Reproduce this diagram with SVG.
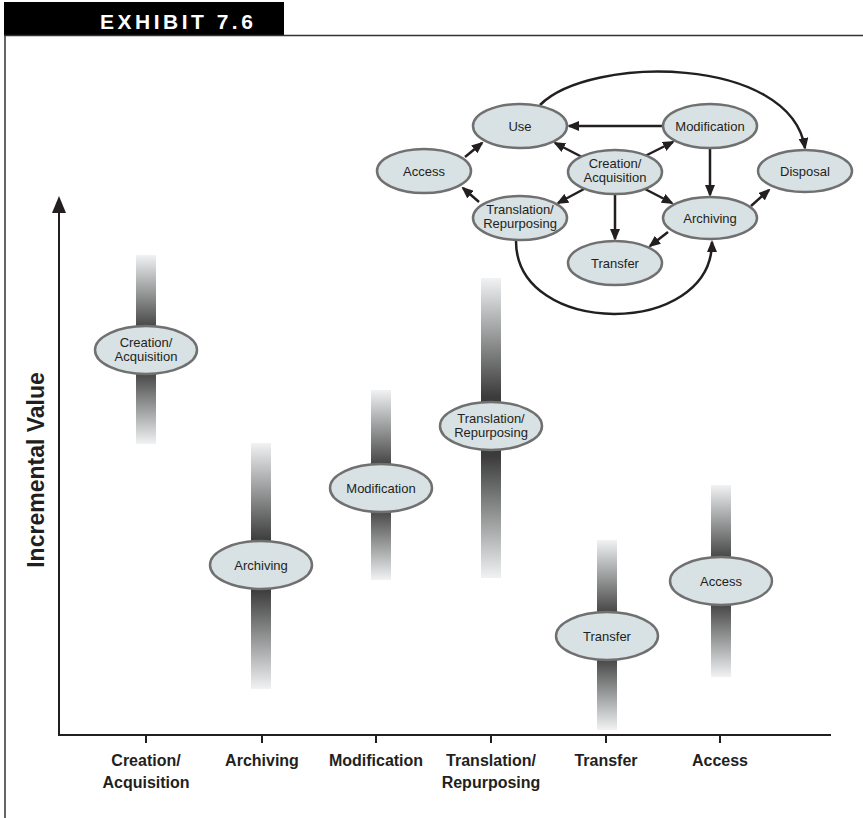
<svg xmlns="http://www.w3.org/2000/svg" width="863" height="818" viewBox="0 0 863 818">
<style>
.nd{fill:#d8e1e3;stroke:#707070;stroke-width:2.5}
.nt{font-family:"Liberation Sans",Arial,sans-serif;font-size:13px;fill:#231f20;text-anchor:middle}
.ax{font-family:"Liberation Sans",Arial,sans-serif;font-size:16px;font-weight:bold;fill:#231f20;text-anchor:middle}
.ed{fill:none;stroke:#231f20;stroke-width:2.5;marker-end:url(#ah)}
.axis{fill:none;stroke:#231f20;stroke-width:2}
</style>
<defs>
<marker id="ah" markerWidth="12" markerHeight="10" refX="10" refY="5" orient="auto" markerUnits="userSpaceOnUse"><path d="M0,0 L12,5 L0,10 z" fill="#231f20"/></marker>
<linearGradient id="gDown" x1="0" y1="0" x2="0" y2="1"><stop offset="0" stop-color="#f0f2f3"/><stop offset="0.8" stop-color="#3c3c3c"/><stop offset="1" stop-color="#333"/></linearGradient>
<linearGradient id="gUp" x1="0" y1="0" x2="0" y2="1"><stop offset="0" stop-color="#333"/><stop offset="0.2" stop-color="#3c3c3c"/><stop offset="1" stop-color="#f0f2f3"/></linearGradient>
</defs>
<rect width="863" height="818" fill="#ffffff"/>
<g id="frame">
<rect x="4" y="2" width="280" height="33" fill="#000"/>
<text x="100" y="29" font-family="Liberation Sans,Arial,sans-serif" font-size="21" font-weight="bold" fill="#fff" letter-spacing="3.5">EXHIBIT 7.6</text>
<line x1="4" y1="35.5" x2="863" y2="35.5" stroke="#333" stroke-width="1.5"/>
<line x1="5" y1="35" x2="5" y2="818" stroke="#333" stroke-width="1.5"/>
</g>
<g id="axes">
<path class="axis" d="M59,210 V735 H831"/>
<path d="M52,213 L59,196 L66,213 z" fill="#231f20"/>
<path class="axis" d="M146,735 v8 M262,735 v8 M376,735 v8 M491,735 v8 M606,735 v8 M720,735 v8"/>
<text x="44" y="470" transform="rotate(-90 44 470)" font-family="Liberation Sans,Arial,sans-serif" font-size="23" font-weight="bold" fill="#231f20" text-anchor="middle">Incremental Value</text>
<text class="ax" x="146" y="766">Creation/</text>
<text class="ax" x="146" y="788">Acquisition</text>
<text class="ax" x="262" y="766">Archiving</text>
<text class="ax" x="376" y="766">Modification</text>
<text class="ax" x="491" y="766">Translation/</text>
<text class="ax" x="491" y="788">Repurposing</text>
<text class="ax" x="606" y="766">Transfer</text>
<text class="ax" x="720" y="766">Access</text>
</g>
<g id="bar-creation">
<rect x="136" y="255" width="20" height="95" fill="url(#gDown)"/>
<rect x="136" y="350" width="20" height="94" fill="url(#gUp)"/>
<ellipse class="nd" cx="146" cy="350" rx="51" ry="24"/>
<text class="nt" x="146" y="347">Creation/</text>
<text class="nt" x="146" y="361">Acquisition</text>
</g>
<g id="bar-archiving">
<rect x="251" y="443" width="20" height="122" fill="url(#gDown)"/>
<rect x="251" y="565" width="20" height="124" fill="url(#gUp)"/>
<ellipse class="nd" cx="261" cy="565" rx="51" ry="24"/>
<text class="nt" x="261" y="570">Archiving</text>
</g>
<g id="bar-modification">
<rect x="371" y="390" width="20" height="98" fill="url(#gDown)"/>
<rect x="371" y="488" width="20" height="92" fill="url(#gUp)"/>
<ellipse class="nd" cx="381" cy="488" rx="51" ry="24"/>
<text class="nt" x="381" y="493">Modification</text>
</g>
<g id="bar-translation">
<rect x="481" y="278" width="20" height="148" fill="url(#gDown)"/>
<rect x="481" y="426" width="20" height="152" fill="url(#gUp)"/>
<ellipse class="nd" cx="491" cy="426" rx="51" ry="24"/>
<text class="nt" x="491" y="423">Translation/</text>
<text class="nt" x="491" y="437">Repurposing</text>
</g>
<g id="bar-transfer">
<rect x="597" y="540" width="20" height="96" fill="url(#gDown)"/>
<rect x="597" y="636" width="20" height="94" fill="url(#gUp)"/>
<ellipse class="nd" cx="607" cy="636" rx="51" ry="24"/>
<text class="nt" x="607" y="641">Transfer</text>
</g>
<g id="bar-access">
<rect x="711" y="485" width="20" height="96" fill="url(#gDown)"/>
<rect x="711" y="581" width="20" height="96" fill="url(#gUp)"/>
<ellipse class="nd" cx="721" cy="581" rx="51" ry="24"/>
<text class="nt" x="721" y="586">Access</text>
</g>
<g id="connectors">
<path class="ed" d="M663,126 L569,126"/>
<path class="ed" d="M582,157 L555,143"/>
<path class="ed" d="M645,156 L673,142"/>
<path class="ed" d="M465,157 L482,143"/>
<path class="ed" d="M479,202 L463,188"/>
<path class="ed" d="M584,189 L558,203"/>
<path class="ed" d="M645,189 L672,203"/>
<path class="ed" d="M615,194 L615,239"/>
<path class="ed" d="M710,148 L710,195"/>
<path class="ed" d="M668,232 L650,246"/>
<path class="ed" d="M751,206 L769,190"/>
<path class="ed" d="M540,105 C590,55 790,55 805,148"/>
<path class="ed" d="M516,241 C516,338 712,338 712,242"/>
</g>
<g id="node-use"><ellipse class="nd" cx="520" cy="126" rx="47" ry="22"/><text class="nt" x="520" y="131">Use</text></g>
<g id="node-modification"><ellipse class="nd" cx="710" cy="126" rx="47" ry="22"/><text class="nt" x="710" y="131">Modification</text></g>
<g id="node-access"><ellipse class="nd" cx="424" cy="171" rx="47" ry="22"/><text class="nt" x="424" y="176">Access</text></g>
<g id="node-creation"><ellipse class="nd" cx="615" cy="172" rx="47" ry="22"/><text class="nt" x="615" y="168">Creation/</text><text class="nt" x="615" y="182">Acquisition</text></g>
<g id="node-disposal"><ellipse class="nd" cx="805" cy="171" rx="47" ry="21"/><text class="nt" x="805" y="176">Disposal</text></g>
<g id="node-translation"><ellipse class="nd" cx="520" cy="218" rx="47" ry="22"/><text class="nt" x="520" y="214">Translation/</text><text class="nt" x="520" y="228">Repurposing</text></g>
<g id="node-archiving"><ellipse class="nd" cx="710" cy="218" rx="47" ry="21"/><text class="nt" x="710" y="223">Archiving</text></g>
<g id="node-transfer"><ellipse class="nd" cx="615" cy="263" rx="47" ry="22"/><text class="nt" x="615" y="268">Transfer</text></g>
</svg>
